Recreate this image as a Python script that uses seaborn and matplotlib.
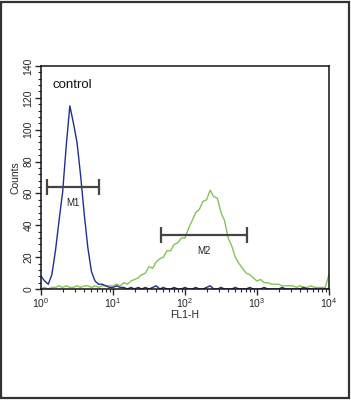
import numpy as np
import pandas as pd
import seaborn as sns
import matplotlib.pyplot as plt
from matplotlib.patches import Rectangle
from matplotlib.ticker import MultipleLocator, LogLocator, LogFormatterMathtext

# channel positions (decades of FL1-H) and counts
decades = [0.00, 0.05, 0.10, 0.15, 0.20, 0.25, 0.30, 0.35, 0.40, 0.45,
           0.50, 0.55, 0.60, 0.65, 0.70, 0.75, 0.80, 0.85, 0.90, 0.95,
           1.00, 1.05, 1.10, 1.15, 1.20, 1.25, 1.30, 1.35, 1.40, 1.45,
           1.50, 1.55, 1.60, 1.65, 1.70, 1.75, 1.80, 1.85, 1.90, 1.95,
           2.00, 2.05, 2.10, 2.15, 2.20, 2.25, 2.30, 2.35, 2.40, 2.45,
           2.50, 2.55, 2.60, 2.65, 2.70, 2.75, 2.80, 2.85, 2.90, 2.95,
           3.00, 3.05, 3.10, 3.15, 3.20, 3.25, 3.30, 3.35, 3.40, 3.45,
           3.50, 3.55, 3.60, 3.65, 3.70, 3.75, 3.80, 3.85, 3.90, 3.95,
           4.00]

control_counts = [8, 5, 3, 9, 24, 43, 61, 90, 115, 104,
                  92, 71, 47, 26, 11, 5, 3, 3, 2, 1,
                  1, 2, 1, 1, 0, 1, 0, 1, 0, 1,
                  0, 1, 2, 0, 1, 0, 0, 1, 0, 0,
                  1, 0, 0, 1, 0, 0, 1, 2, 0, 0,
                  1, 0, 0, 0, 1, 0, 0, 0, 1, 0,
                  0, 0, 1, 0, 0, 0, 0, 1, 0, 0,
                  0, 0, 0, 1, 0, 0, 0, 0, 0, 0,
                  0]

sample_counts = [0, 1, 0, 1, 1, 2, 1, 2, 1, 1,
                 2, 1, 2, 2, 1, 2, 1, 2, 2, 2,
                 2, 3, 2, 4, 3, 5, 6, 7, 9, 10,
                 14, 13, 17, 19, 20, 24, 24, 28, 29, 32,
                 32, 38, 43, 48, 50, 55, 56, 62, 58, 57,
                 48, 43, 32, 27, 20, 16, 13, 10, 9, 7,
                 5, 6, 4, 4, 3, 3, 3, 2, 2, 2,
                 2, 1, 2, 1, 1, 2, 1, 1, 1, 1,
                 9]

# marker gates: [low, high], level
m1_range = [1.2, 6.4]
m1_level = 64
m2_range = [46, 725]
m2_level = 34

df = pd.DataFrame({'FL1-H': np.power(10.0, decades),
                   'control': control_counts,
                   'sample': sample_counts})

sns.set_style("ticks")
plt.rcParams['font.family'] = ['Liberation Sans', 'DejaVu Sans']
plt.rcParams['mathtext.fontset'] = 'custom'
plt.rcParams['mathtext.rm'] = 'Liberation Sans'

fig = plt.figure(figsize=(3.51, 4.0), dpi=100)
ax = fig.add_axes([0.117, 0.2775, 0.820, 0.5575])

sns.lineplot(data=df, x='FL1-H', y='sample', ax=ax, color='#86c44f', lw=1.0)
sns.lineplot(data=df, x='FL1-H', y='control', ax=ax, color='#1f2f8f', lw=1.0)

# gate bars
for rng, lvl, name in [(m1_range, m1_level, 'M1'), (m2_range, m2_level, 'M2')]:
    ax.plot(rng, [lvl, lvl], color='#444444', lw=1.6)
    ax.vlines(rng, lvl - 5, lvl + 5, color='#444444', lw=1.6)
    mid = np.sqrt(rng[0] * rng[1])
    ax.text(mid, lvl - 7, name, ha='center', va='top', fontsize=7, color='#222222')

ax.text(0.038, 0.915, 'control', transform=ax.transAxes, fontsize=9.5,
        ha='left', va='center', color='#111111')

ax.set_xscale('log')
ax.set_xlim(1, 10000)
ax.set_ylim(0, 140)
ax.xaxis.set_major_locator(LogLocator(base=10))
ax.xaxis.set_major_formatter(LogFormatterMathtext())
ax.xaxis.set_minor_locator(LogLocator(base=10, subs=np.arange(2, 10)))
ax.yaxis.set_major_locator(MultipleLocator(20))
ax.yaxis.set_minor_locator(MultipleLocator(4))

ax.tick_params(axis='both', which='major', direction='out', length=4, width=1,
               labelsize=7.5, pad=1.5)
ax.tick_params(axis='both', which='minor', direction='out', length=2.5, width=0.8)
for lab in ax.get_yticklabels():
    lab.set_rotation(90)
    lab.set_va('center')

ax.set_xlabel('FL1-H', fontsize=7.5, labelpad=0)
ax.set_ylabel('Counts', fontsize=7.5, labelpad=2)
for sp in ax.spines.values():
    sp.set_visible(True)
    sp.set_linewidth(1.1)
    sp.set_color('#111111')

# outer frame of the picture
fig.patches.append(Rectangle((0.004, 0.004), 0.990, 0.992, transform=fig.transFigure,
                             fill=False, edgecolor='#333333', lw=1.6))

fig.savefig('out.png', dpi=100)
